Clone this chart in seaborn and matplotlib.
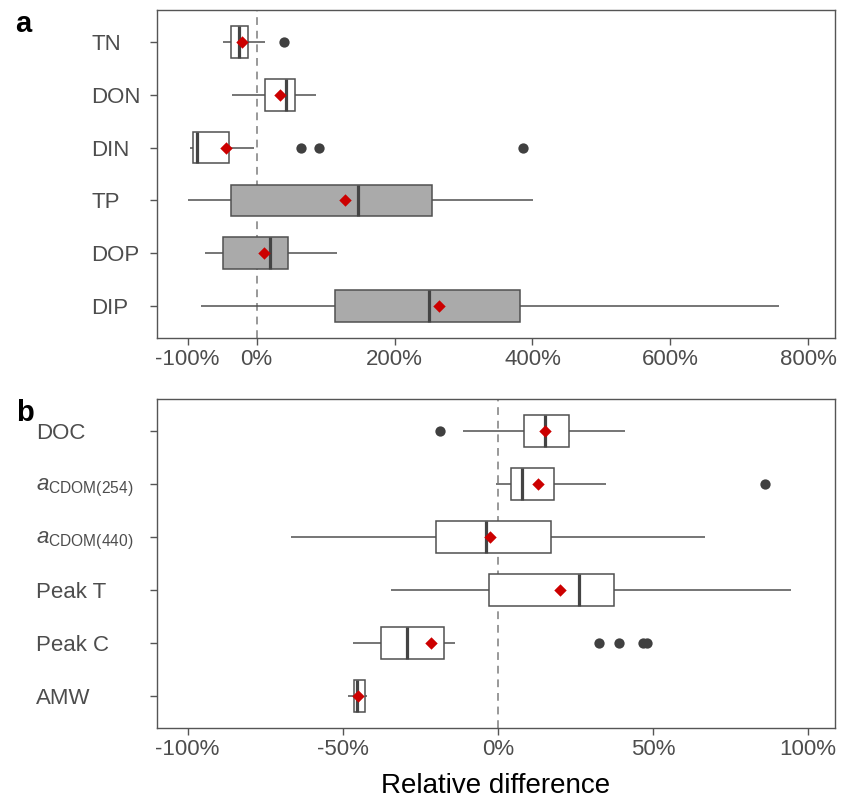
import numpy as np
import pandas as pd
import matplotlib
matplotlib.use("Agg")
import matplotlib.pyplot as plt
from matplotlib.ticker import FuncFormatter
import seaborn as sns

# ---------------- data (relative difference, fraction) ----------------
cats_a = ["TN", "DON", "DIN", "TP", "DOP", "DIP"]
labels_a = ["TN", "DON", "DIN", "TP", "DOP", "DIP"]
wlo_a = [-0.49, -0.351, -0.965, -0.987, -0.749, -0.807]
q1_a = [-0.366, 0.119, -0.921, -0.364, -0.486, 1.139]
med_a = [-0.25, 0.432, -0.868, 1.465, 0.194, 2.505]
q3_a = [-0.119, 0.559, -0.399, 2.545, 0.457, 3.815]
whi_a = [0.128, 0.868, -0.036, 4.007, 1.163, 7.577]
mean_a = [-0.215, 0.341, -0.447, 1.28, 0.112, 2.646]
fill_a = ["white", "white", "white", "#AAAAAA", "#AAAAAA", "#AAAAAA"]
out_cat_a = ["TN", "DIN", "DIN", "DIN"]
out_val_a = [0.403, 0.65, 0.911, 3.862]

cats_b = ["DOC", "a254", "a440", "Peak T", "Peak C", "AMW"]
labels_b = ["DOC", r"$\mathit{a}_{\mathrm{CDOM(254)}}$", r"$\mathit{a}_{\mathrm{CDOM(440)}}$",
            "Peak T", "Peak C", "AMW"]
wlo_b = [-0.113, -0.006, -0.667, -0.345, -0.466, -0.482]
q1_b = [0.084, 0.042, -0.198, -0.027, -0.377, -0.465]
med_b = [0.153, 0.077, -0.037, 0.263, -0.292, -0.455]
q3_b = [0.23, 0.182, 0.171, 0.376, -0.172, -0.428]
whi_b = [0.409, 0.35, 0.667, 0.945, -0.137, -0.423]
mean_b = [0.151, 0.13, -0.024, 0.2, -0.214, -0.45]
fill_b = ["white"] * 6
out_cat_b = ["DOC", "a254", "Peak C", "Peak C", "Peak C", "Peak C"]
out_val_b = [-0.185, 0.862, 0.325, 0.391, 0.467, 0.48]

xticks_a = [-1, 0, 2, 4, 6, 8]
xticks_b = [-1, -0.5, 0, 0.5, 1]

# ---------------- style ----------------
sns.set_theme(style="ticks")
plt.rcParams["font.family"] = ["Liberation Sans", "DejaVu Sans"]
plt.rcParams["mathtext.fontset"] = "custom"
plt.rcParams["mathtext.rm"] = "Liberation Sans"
plt.rcParams["mathtext.it"] = "Liberation Sans:italic"
plt.rcParams["mathtext.bf"] = "Liberation Sans:bold"

EDGE = "#505050"
MED = "#444444"
PT = "#404040"
SPINE = "#555555"
TXT = "#4D4D4D"

fig = plt.figure(figsize=(8.51, 7.98), dpi=100)
W, H = 851, 798
left, right = 156.7 / W, 835 / W
ax_a = fig.add_axes([left, 1 - 338 / H, right - left, (338 - 10) / H])
ax_b = fig.add_axes([left, 1 - 727.5 / H, right - left, (727.5 - 399) / H])


def panel(ax, cats, labels, wlo, q1, med, q3, whi, means, fills, ocat, oval,
          xlim, xticks, pad):
    rows = []
    for c, a, b, m, d, e in zip(cats, wlo, q1, med, q3, whi):
        for v in (a, b, b, m, d, d, e):
            rows.append((c, v))
    df = pd.DataFrame(rows, columns=["cat", "value"])
    ax.axvline(0, color="#999999", lw=1.4, ls=(0, (4, 3)), zorder=0)
    sns.boxplot(data=df, x="value", y="cat", hue="cat", order=cats,
                hue_order=cats, palette=dict(zip(cats, fills)), legend=False,
                whis=(0, 100), width=0.6, saturation=1, linecolor=EDGE,
                linewidth=1.1, showcaps=False, showfliers=False,
                medianprops={"linewidth": 2.3, "color": MED},
                orient="h", ax=ax, zorder=2)
    pos = {c: i for i, c in enumerate(cats)}
    sns.scatterplot(x=oval, y=[pos[c] for c in ocat], ax=ax, color=PT,
                    s=55, linewidth=0, zorder=4, legend=False)
    sns.scatterplot(x=means, y=list(range(len(cats))), ax=ax, marker="D",
                    color="#CC0000", s=40, linewidth=0, zorder=5, legend=False)
    ax.set_xlim(*xlim)
    ax.set_ylim(len(cats) - 1 + 0.6, -0.6)
    ax.set_xticks(xticks)
    ax.xaxis.set_major_formatter(FuncFormatter(lambda x, p: f"{x * 100:.0f}%"))
    ax.set_yticks(range(len(cats)))
    ax.set_yticklabels(labels)
    ax.set_xlabel("")
    ax.set_ylabel("")
    for s in ax.spines.values():
        s.set_visible(True)
        s.set_color(SPINE)
        s.set_linewidth(1.0)
    ax.tick_params(axis="both", colors=SPINE, labelcolor=TXT, labelsize=16,
                   length=5, width=1.0)
    ax.tick_params(axis="y", pad=pad)
    ax.tick_params(axis="x", pad=3)
    for t in ax.get_yticklabels():
        t.set_ha("left")
    ax.grid(False)


panel(ax_a, cats_a, labels_a, wlo_a, q1_a, med_a, q3_a, whi_a, mean_a, fill_a,
      out_cat_a, out_val_a, (-1.447, 8.385), xticks_a, 42)
panel(ax_b, cats_b, labels_b, wlo_b, q1_b, med_b, q3_b, whi_b, mean_b, fill_b,
      out_cat_b, out_val_b, (-1.0996, 1.087), xticks_b, 82)

fig.text(15 / W, 1 - 32 / H, "a", fontsize=21, fontweight="bold",
         color="black", va="baseline", ha="left")
fig.text(16 / W, 1 - 421 / H, "b", fontsize=21, fontweight="bold",
         color="black", va="baseline", ha="left")
fig.text(496 / W, 1 - 793 / H, "Relative difference", fontsize=20,
         color="black", va="baseline", ha="center")

fig.savefig("out.png", dpi=100)
